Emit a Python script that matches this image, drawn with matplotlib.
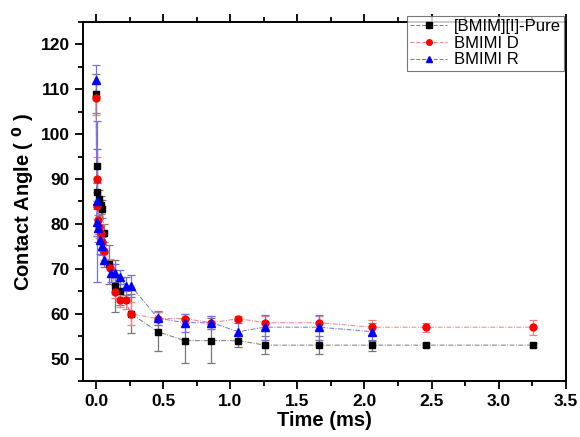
import numpy as np
import matplotlib
matplotlib.use('Agg')
import matplotlib.pyplot as plt
from matplotlib.ticker import MultipleLocator

plt.rcParams['font.family'] = ['Liberation Sans', 'DejaVu Sans']

# [BMIM][I]-Pure
t_pure = [0.0, 0.003, 0.01, 0.025, 0.035, 0.045, 0.062, 0.097, 0.14, 0.18, 0.26,
          0.46, 0.66, 0.86, 1.06, 1.26, 1.66, 2.06, 2.46, 3.26]
ca_pure = [109, 93, 87, 85.5, 84.2, 83.3, 78, 71, 66.2, 65, 60,
           56, 54, 54, 54, 53, 53, 53, 53, 53]
err_pure = [4.3, 3.6, 2, 2, 2, 2, 2, 4.3, 5.8, 3, 4.4,
            4.3, 5, 5, 1.5, 2, 2, 1.2, 0.5, 0.5]

# BMIMI D
t_d = [0.0, 0.005, 0.01, 0.017, 0.025, 0.035, 0.045, 0.06, 0.10, 0.14, 0.18, 0.22, 0.26,
       0.46, 0.66, 0.86, 1.06, 1.26, 1.66, 2.06, 2.46, 3.26]
ca_d = [108, 90, 84, 80.8, 79.3, 77.9, 76, 74, 70.2, 64.9, 63, 63, 60,
        58.9, 58.9, 58, 58.9, 58, 58, 57, 57, 57]
err_d = [3.7, 5, 3, 3, 2.5, 2, 2, 2, 2, 1.5, 1.5, 2, 2.5,
         1.5, 1, 1.5, 0.5, 1.5, 1.5, 1.7, 1, 1.7]

# BMIMI R
t_r = [0.0, 0.003, 0.005, 0.015, 0.03, 0.045, 0.055, 0.11, 0.14, 0.18, 0.22, 0.26,
       0.46, 0.66, 0.86, 1.06, 1.26, 1.66, 2.06]
ca_r = [112, 85, 80.4, 79, 76.4, 75, 72, 69.1, 69.1, 68.2, 66.2, 66.2,
        59, 58, 58, 56, 57, 57, 56]
err_r = [3.5, 18, 3, 3, 3, 2, 1.5, 2, 2, 1.5, 2, 2.5,
         1.5, 2, 1.5, 2, 2.8, 2.8, 2]

series = [
    (t_pure, ca_pure, err_pure, '[BMIM][I]-Pure', 'black', '#777777', 's', 5),
    (t_d, ca_d, err_d, 'BMIMI D', 'red', '#f08080', 'o', 5),
    (t_r, ca_r, err_r, 'BMIMI R', 'blue', '#7070ee', '^', 6),
]

fig = plt.figure(figsize=(5.8, 4.37), dpi=100)
ax = fig.add_axes([0.1426, 0.128, 0.8327, 0.822])

for t, ca, err, lab, col, lcol, mk, ms in series:
    ax.errorbar(t, ca, yerr=err, fmt='none', ecolor=lcol, elinewidth=0.9,
                capsize=3, capthick=0.9, zorder=2)
    ax.plot(t, ca, color=lcol, lw=0.7, ls=(0, (5, 1.5, 1, 1.5)), zorder=3)
    ax.plot(t, ca, ls='none', marker=mk, ms=ms, color=col, zorder=4)
    # legend proxy
    ax.plot([], [], color=lcol, lw=0.7, ls=(0, (4, 2)), marker=mk, ms=4,
            markerfacecolor=col, markeredgecolor=col, label=lab)

ax.set_xlim(-0.1, 3.5)
ax.set_ylim(45, 125)
ax.xaxis.set_minor_locator(MultipleLocator(0.25))
ax.yaxis.set_minor_locator(MultipleLocator(5))
ax.set_yticks(np.arange(50, 121, 10))
ax.set_xticks(np.arange(0, 3.51, 0.5))

ax.tick_params(which='both', direction='out', top=True, right=False, width=1.3,
               labelsize=12.5)
ax.tick_params(which='major', length=6)
ax.tick_params(which='minor', length=3.5)
for lbl in ax.get_xticklabels() + ax.get_yticklabels():
    lbl.set_fontweight('bold')
for s in ax.spines.values():
    s.set_linewidth(1.4)

ax.set_xlabel('Time (ms)', fontsize=14.5, fontweight='bold', labelpad=1)
ax.set_ylabel(r'Contact Angle ( $\mathbf{^0}$ )', fontsize=14.5, fontweight='bold',
              labelpad=3)

leg = ax.legend(loc='upper right', bbox_to_anchor=(0.9965, 1.017), fontsize=12,
                frameon=True, fancybox=False, borderpad=0.2, labelspacing=0.1,
                handlelength=2.2, handletextpad=0.4, borderaxespad=0)
leg.get_frame().set_edgecolor('#555555')
leg.get_frame().set_linewidth(0.8)

fig.savefig('out.png', dpi=100)
